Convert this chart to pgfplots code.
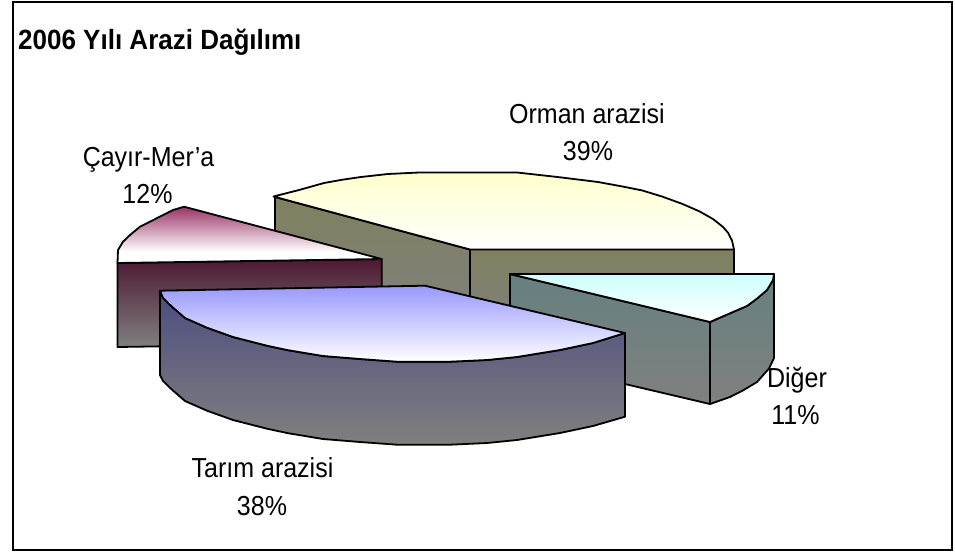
\documentclass[border=0pt]{standalone}
\usepackage{fontspec}
\setmainfont{Liberation Sans}
\usepackage{graphicx}
\usepackage{pgfplots}
\pgfplotsset{compat=1.18}
\definecolor{ormanA}{HTML}{FFFFCC}
\definecolor{ormanS}{HTML}{80805F}
\definecolor{digerA}{HTML}{CCFFFF}
\definecolor{digerS}{HTML}{668080}
\definecolor{cayirA}{HTML}{993366}
\definecolor{cayirS}{HTML}{4D1933}
\definecolor{tarimA}{HTML}{9999FF}
\definecolor{tarimS}{HTML}{4D4D80}
\definecolor{endS}{HTML}{808080}
\pgfdeclareverticalshading{cayirtop}{100bp}{color(0bp)=(white); color(35bp)=(white); color(75bp)=(cayirA); color(100bp)=(cayirA)}
\tikzset{
  pie/.style={draw=black, line width=1.8pt, line join=round},
  lab/.style={font=\fontsize{25}{25}\selectfont, anchor=base, inner sep=0pt},
}
\newcommand{\lab}[1]{\scalebox{1}[1.1]{#1}}
\begin{document}
\begin{tikzpicture}
\path (0pt,0pt) rectangle (955pt,552pt);
\begin{axis}[
  at={(0pt,0pt)}, anchor=south west,
  width=955pt, height=552pt, scale only axis,
  xmin=0, xmax=955, ymin=0, ymax=552, y dir=reverse,
  hide axis, clip=false,
]
% frame
\addplot[draw=black, line width=2.8pt] coordinates {(13,2) (952,2) (952,550) (13,550)} --cycle;
% Orman arazisi
\addplot[pie, top color=ormanS, bottom color=endS] coordinates {(275,197) (470,249.5) (470,333) (275,281)} --cycle;
\addplot[pie, top color=ormanS, bottom color=endS] coordinates {(470,249.5) (734,249.5) (734,333) (470,333)} --cycle;
\addplot[pie, top color=ormanA, bottom color=white] coordinates {(273.5,196.5) (299,190) (324,183) (343,179.6) (361,177) (388,174) (419,172.5) (470,172.5) (517,172.5) (557.5,177) (598,182) (622,186.4) (642,190.4) (662,196.5) (682.6,204) (699.5,211.4) (713,219) (723,227) (728,232.7) (732,240.5) (734,249.5) (470,249.5)} --cycle;
% Cayir-Mer'a
\addplot[pie, top color=cayirS, bottom color=endS] coordinates {(117.5,263) (381.7,259) (381.7,343) (117.5,347)} --cycle;
\addplot[pie, shade, shading=cayirtop] coordinates {(184,206.7) (173,210) (163,215) (150,221.7) (140,226.7) (130,235) (123,241.7) (118,250) (117.5,263) (381.7,259)} --cycle;
% Diger
\addplot[pie, top color=digerS, bottom color=endS] coordinates {(510,274) (710,322) (710,404) (510,357)} --cycle;
\addplot[pie, top color=digerS, bottom color=endS] coordinates {(710,322) (733,312) (747,306) (757,298.6) (767,290) (773,280) (774,274) (774,358) (769,368.5) (757,382) (743.7,390) (730,397) (710,404)} --cycle;
\addplot[pie, top color=digerA, bottom color=white] coordinates {(510,274) (774,274) (773,280) (767,290) (757,298.6) (747,306) (733,312) (710,322)} --cycle;
% Tarim arazisi
\addplot[pie, top color=tarimS, bottom color=endS] coordinates {(160,291) (163,298) (172,306.7) (185,318) (207,327.7) (233,337) (267,345.7) (287,350) (323,356) (360,359) (397,361.7) (450,361.7) (487,360) (517,357) (560,350) (593,343) (625,333) (625,416.7) (593,426) (560,433) (517,440) (487,443) (450,444.7) (397,444.7) (360,442) (323,439) (287,433) (267,428.7) (233,420) (207,410.7) (185,401) (172,389.7) (163,381) (160,375)} --cycle;
\addplot[pie, top color=tarimA, bottom color=white] coordinates {(160,290.7) (425,285.7) (625,333) (593,343) (560,350) (517,357) (487,360) (450,361.7) (397,361.7) (360,359) (323,356) (287,350) (267,345.7) (233,337) (207,327.7) (185,318) (172,306.7) (163,298)} --cycle;
% labels
\node[lab] at (axis cs:587,123) {\lab{Orman arazisi}};
\node[lab] at (axis cs:588,160) {\lab{39\%}};
\node[lab] at (axis cs:148.5,166) {\lab{Çayır-Mer’a}};
\node[lab] at (axis cs:147.5,203) {\lab{12\%}};
\node[lab] at (axis cs:797,387) {\lab{Diğer}};
\node[lab] at (axis cs:795.5,424.6) {\lab{11\%}};
\node[lab] at (axis cs:262.5,477) {\lab{Tarım arazisi}};
\node[lab] at (axis cs:262,515) {\lab{38\%}};
\node[font=\fontsize{26}{26}\selectfont\bfseries, anchor=base west, inner sep=0pt] at (axis cs:18,49.5) {\scalebox{1}[1.07]{2006 Yılı Arazi Dağılımı}};
\end{axis}
\end{tikzpicture}
\end{document}
